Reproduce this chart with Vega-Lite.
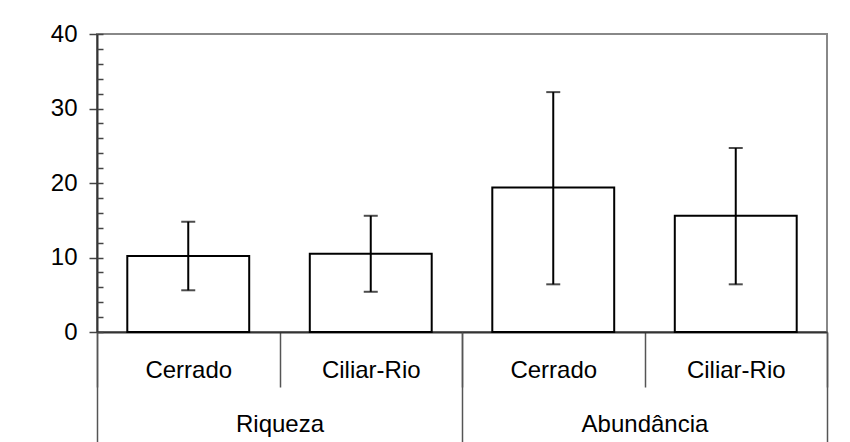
{
  "$schema": "https://vega.github.io/schema/vega-lite/v6.json",
  "width": 730,
  "height": 298,
  "autosize": {"type": "none"},
  "padding": {"left": 97, "top": 34, "right": 23, "bottom": 110},
  "background": "white",
  "data": {
    "values": [
      {"cat": "Riqueza|Cerrado", "grupo": "Riqueza", "habitat": "Cerrado", "media": 10.2, "inf": 5.6, "sup": 14.8},
      {"cat": "Riqueza|Ciliar-Rio", "grupo": "Riqueza", "habitat": "Ciliar-Rio", "media": 10.5, "inf": 5.4, "sup": 15.6},
      {"cat": "Abundância|Cerrado", "grupo": "Abundância", "habitat": "Cerrado", "media": 19.4, "inf": 6.4, "sup": 32.2},
      {"cat": "Abundância|Ciliar-Rio", "grupo": "Abundância", "habitat": "Ciliar-Rio", "media": 15.6, "inf": 6.4, "sup": 24.7}
    ]
  },
  "layer": [
    {
      "encoding": {
        "x": {
          "field": "cat", "type": "nominal", "sort": null,
          "scale": {"paddingInner": 0, "paddingOuter": 0},
          "axis": {
            "orient": "bottom", "title": null,
            "labelExpr": "split(datum.label, '|')[1]",
            "labelAngle": 0, "labelFontSize": 24, "labelColor": "#000",
            "labelBaseline": "alphabetic", "labelPadding": -10,
            "tickBand": "extent", "tickSize": 55, "tickColor": "#555", "tickWidth": 1.5,
            "domain": true, "domainColor": "#333", "domainWidth": 2,
            "grid": false
          }
        }
      },
      "layer": [
        {
          "mark": {"type": "bar", "fill": "white", "stroke": "black", "strokeWidth": 2, "width": {"band": 0.668}},
          "encoding": {
            "y": {
              "field": "media", "type": "quantitative",
              "scale": {"domain": [0, 40], "nice": false},
              "axis": {
                "orient": "left", "title": null, "values": [0, 10, 20, 30, 40],
                "labelFontSize": 24, "labelColor": "#000", "labelPadding": 12,
                "tickSize": 8, "tickColor": "#444", "tickWidth": 1.5,
                "domain": true, "domainColor": "#333", "domainWidth": 2,
                "grid": false
              }
            }
          }
        },
        {
          "mark": {"type": "rule", "color": "black", "strokeWidth": 2},
          "encoding": {
            "y": {"field": "inf", "type": "quantitative"},
            "y2": {"field": "sup"}
          }
        },
        {
          "mark": {"type": "tick", "color": "black", "thickness": 2, "size": 14, "orient": "horizontal"},
          "encoding": {"y": {"field": "sup", "type": "quantitative"}}
        },
        {
          "mark": {"type": "tick", "color": "black", "thickness": 2, "size": 14, "orient": "horizontal"},
          "encoding": {"y": {"field": "inf", "type": "quantitative"}}
        }
      ]
    },
    {
      "mark": {"type": "bar", "opacity": 0},
      "encoding": {
        "x": {
          "field": "grupo", "type": "nominal", "sort": null,
          "scale": {"paddingInner": 0, "paddingOuter": 0},
          "axis": {
            "orient": "bottom", "title": null,
            "labelAngle": 0, "labelFontSize": 24, "labelColor": "#000",
            "labelBaseline": "alphabetic", "labelPadding": -11,
            "tickBand": "extent", "tickSize": 110, "tickColor": "#555", "tickWidth": 1.5,
            "domain": false, "grid": false
          }
        }
      }
    },
    {
      "mark": {"type": "point", "opacity": 0},
      "encoding": {
        "y": {
          "field": "media", "type": "quantitative",
          "scale": {"domain": [0, 40], "nice": false},
          "axis": {
            "orient": "left", "title": null,
            "values": [0, 2, 4, 6, 8, 10, 12, 14, 16, 18, 20, 22, 24, 26, 28, 30, 32, 34, 36, 38, 40],
            "labels": false, "domain": false, "grid": false,
            "tickSize": -6, "tickColor": "#444", "tickWidth": 1.5
          }
        }
      }
    }
  ],
  "resolve": {
    "scale": {"x": "independent", "y": "independent"},
    "axis": {"x": "independent", "y": "independent"}
  },
  "config": {
    "font": "Liberation Sans",
    "view": {"stroke": "#888", "strokeWidth": 2},
    "axis": {"labelFont": "Liberation Sans"}
  }
}
